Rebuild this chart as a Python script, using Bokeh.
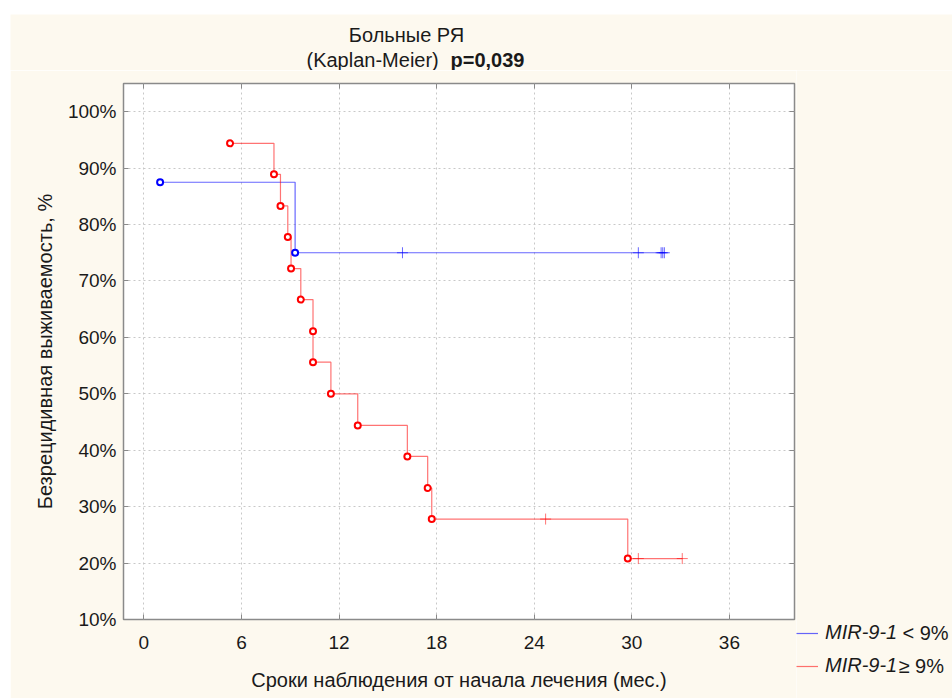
from bokeh.plotting import figure
from bokeh.models import (FixedTicker, LinearAxis, Legend, LegendItem, Label,
                          Range1d, Spacer, CustomJSTickFormatter, PrintfTickFormatter)
from bokeh.layouts import column, row
from bokeh.embed import file_html
from bokeh.resources import INLINE

# ---------------- data ----------------
title_line1 = "Больные РЯ"
title_line2a = "(Kaplan-Meier)"
title_line2b = "p=0,039"
x_label = "Сроки наблюдения от начала лечения (мес.)"
y_label = "Безрецидивная выживаемость, %"
x_ticks = [0, 6, 12, 18, 24, 30, 36]
y_ticks = [10, 20, 30, 40, 50, 60, 70, 80, 90, 100]

group_name = "MIR-9-1"
low_suffix = "< 9%"
high_suffix = "≥ 9%"

# MIR-9-1 < 9% (blue)
low_event_t = [1.0, 9.3]
low_event_s = [87.5, 75.0]
low_cens_t = [15.9, 30.4, 31.8, 31.9, 32.0]

# MIR-9-1 >= 9% (red)
high_event_t = [5.3, 8.0, 8.4, 8.85, 9.05, 9.65, 10.4, 10.4, 11.5, 13.15, 16.2, 17.45, 17.7, 29.75]
high_event_s = [94.4, 88.9, 83.3, 77.8, 72.2, 66.7, 61.1, 55.6, 50.0, 44.4, 38.9, 33.3, 27.8, 20.8]
high_cens_t = [24.7, 30.4, 33.1]

FONT = "Liberation Sans"
BG = "#fdf9ef"
INK = "#1a1a1a"
GRAY = "#8a8a8a"
BLUE = "blue"
RED = "red"


def steps(ts, ss, t_end):
    xs, ys = [ts[0]], [ss[0]]
    for i in range(1, len(ts)):
        xs += [ts[i], ts[i]]
        ys += [ss[i - 1], ss[i]]
    xs.append(t_end)
    ys.append(ss[-1])
    return xs, ys


def surv_at(ts, ss, t):
    s = ss[0]
    for ti, si in zip(ts, ss):
        if ti <= t:
            s = si
    return s


def bare(fig):
    fig.border_fill_color = BG
    fig.background_fill_color = BG
    fig.outline_line_color = None
    fig.grid.visible = False
    return fig


# ---------------- title strip ----------------
head = bare(figure(width=942, height=56, x_range=Range1d(10, 952), y_range=Range1d(70, 14),
                   output_backend="svg", toolbar_location=None,
                   x_axis_location=None, y_axis_location=None, min_border=0))
head.add_layout(Label(x=406, y=34, text=title_line1, text_align="center",
                      text_baseline="middle", text_font=FONT, text_font_size="20px",
                      text_color=INK))
head.add_layout(Label(x=306, y=59, text=title_line2a, text_align="left",
                      text_baseline="middle", text_font=FONT, text_font_size="20px",
                      text_color=INK))
head.add_layout(Label(x=450, y=59, text=title_line2b, text_align="left",
                      text_baseline="middle", text_font=FONT, text_font_size="20px",
                      text_font_style="bold", text_color=INK))

# ---------------- main plot ----------------
p = figure(width=786, height=628, x_range=(-1.25, 40), y_range=(10, 105),
           output_backend="svg", toolbar_location=None,
           min_border_left=113, min_border_right=2,
           min_border_top=13, min_border_bottom=79)
p.border_fill_color = BG
p.background_fill_color = "white"
p.outline_line_color = GRAY
p.outline_line_width = 1.5

for ax in (p.xaxis[0], p.yaxis[0]):
    ax.axis_line_color = None
    ax.major_tick_in = 5
    ax.major_tick_out = 0
    ax.major_tick_line_color = GRAY
    ax.minor_tick_line_color = None
    ax.major_label_text_font = FONT
    ax.major_label_text_font_size = "19px"
    ax.major_label_text_color = INK
    ax.axis_label_text_font = FONT
    ax.axis_label_text_font_size = "20px"
    ax.axis_label_text_font_style = "normal"
    ax.axis_label_text_color = INK

p.xaxis[0].ticker = FixedTicker(ticks=x_ticks)
p.yaxis[0].ticker = FixedTicker(ticks=y_ticks)
p.yaxis[0].formatter = PrintfTickFormatter(format="%d%%")
p.xaxis[0].axis_label = x_label
p.yaxis[0].axis_label = y_label
p.xaxis[0].major_label_standoff = 16
p.xaxis[0].axis_label_standoff = 17
p.yaxis[0].major_label_standoff = 7
p.yaxis[0].axis_label_standoff = 9

for loc, ticks in (("above", x_ticks), ("right", y_ticks)):
    ax = LinearAxis(ticker=FixedTicker(ticks=ticks),
                    formatter=CustomJSTickFormatter(code="return ''"))
    ax.axis_line_color = None
    ax.major_tick_in = 5
    ax.major_tick_out = 0
    ax.major_tick_line_color = GRAY
    ax.minor_tick_line_color = None
    ax.major_label_standoff = 0
    ax.major_label_text_font_size = "0px"
    p.add_layout(ax, loc)

p.xgrid.ticker = FixedTicker(ticks=x_ticks)
p.ygrid.ticker = FixedTicker(ticks=y_ticks)
p.grid.grid_line_color = "#c8c8c8"
p.grid.grid_line_dash = "2 3"
p.grid.grid_line_width = 1

bx, by = steps(low_event_t, low_event_s, max(low_cens_t))
rx, ry = steps(high_event_t, high_event_s, max(high_cens_t))

p.line(bx, by, line_color=BLUE, line_alpha=0.6, line_width=1.2)
p.line(rx, ry, line_color=RED, line_alpha=0.55, line_width=1.2)

p.scatter(low_cens_t, [surv_at(low_event_t, low_event_s, t) for t in low_cens_t],
          marker="cross", size=11, line_color=BLUE, line_alpha=0.6, line_width=1)
p.scatter(high_cens_t, [surv_at(high_event_t, high_event_s, t) for t in high_cens_t],
          marker="cross", size=11, line_color=RED, line_alpha=0.55, line_width=1)

p.scatter(low_event_t, low_event_s, marker="circle", size=6, line_color=BLUE,
          line_width=2, fill_color="white")
p.scatter(high_event_t, high_event_s, marker="circle", size=6, line_color=RED,
          line_width=2, fill_color="white")

# ---------------- legend strip ----------------
q = bare(figure(width=156, height=628, x_range=Range1d(796, 952), y_range=Range1d(698, 70),
                output_backend="svg", toolbar_location=None, frame_align=False,
                x_axis_location=None, y_axis_location=None, min_border=0))
nan = float("nan")
lb = q.line([nan], [nan], line_color=BLUE, line_alpha=0.6, line_width=1.2)
lr = q.line([nan], [nan], line_color=RED, line_alpha=0.55, line_width=1.2)
legend = Legend(items=[LegendItem(label=group_name, renderers=[lb]),
                       LegendItem(label=group_name, renderers=[lr])],
                location=(0, 21), glyph_width=22, glyph_height=20,
                label_standoff=7, padding=0, margin=0, spacing=10,
                background_fill_alpha=0, border_line_color=None,
                label_text_font=FONT, label_text_font_size="20px",
                label_text_font_style="italic", label_text_color=INK)
q.add_layout(legend)
q.add_layout(Label(x=902, y=632, text=low_suffix, text_align="left",
                   text_baseline="middle", text_font=FONT, text_font_size="20px",
                   text_color=INK))
q.add_layout(Label(x=898, y=665, text=high_suffix, text_align="left",
                   text_baseline="middle", text_font=FONT, text_font_size="20px",
                   text_color=INK))

layout = column(Spacer(height=14),
                row(Spacer(width=10), head),
                row(Spacer(width=10), p, q))

open("out.html", "w").write(file_html(layout, INLINE))
